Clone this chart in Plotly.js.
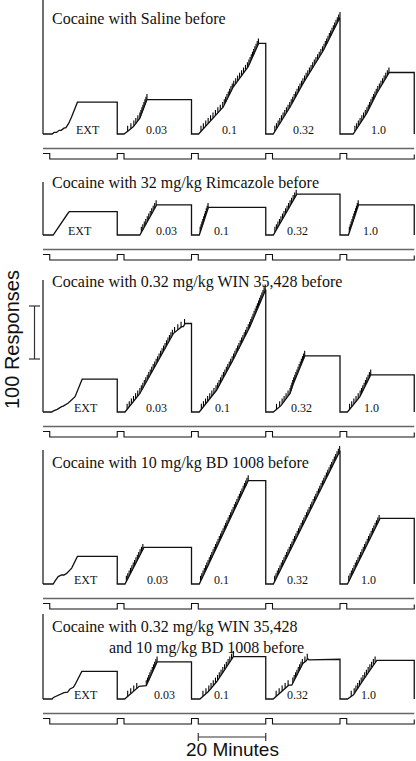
<!DOCTYPE html>
<html><head><meta charset="utf-8">
<script src="https://cdn.plot.ly/plotly-3.0.1.min.js"></script>
<style>html,body{margin:0;padding:0;background:#fff;overflow:hidden}#chart{width:416px;height:761px}</style>
</head><body><div id="chart"></div>
<script>
// ================= DATA =================
const components = ["EXT", "0.03", "0.1", "0.32", "1.0"];
const panelTitles = [
  "Cocaine with Saline before",
  "Cocaine with 32 mg/kg Rimcazole before",
  "Cocaine with 0.32 mg/kg WIN 35,428 before",
  "Cocaine with 10 mg/kg BD 1008 before",
  "Cocaine with 0.32 mg/kg WIN 35,428<br>and 10 mg/kg BD 1008 before"
];
const cycleMinutes = 22;      // 2-min timeout + 20-min component
const timeoutMinutes = 2;
const responsesPerInfusion = 5;
const scaleBarResponses = 100;
const scaleBarMinutes = 20;

// cumulative records: minutes into each cycle / cumulative responses
const salineMin = [
  [0, 2.7, 3.3, 4.0, 4.8, 5.4, 6.2, 6.8, 7.6, 8.4, 10.2, 22],
  [0, 2.0, 3.3, 4.8, 6.7, 8.8, 22],
  [0, 2.1, 5.5, 9.4, 12.4, 16.8, 19.9, 22],
  [0, 2.2, 7.2, 11.1, 17.1, 22],
  [0, 3.9, 7.9, 10.9, 14.6, 22]
];
const salineResp = [
  [0, 0, 3, 3, 7, 7, 11, 12, 20, 31, 60, 60],
  [0, 0, 6, 14, 30, 65, 65],
  [0, 0, 24, 51, 89, 127, 171, 171],
  [0, 0, 51, 96, 158, 220],
  [0, 0, 39, 77, 116, 116]
];
const rimcazoleMin = [
  [0, 3.0, 7.4, 7.8, 22],
  [0, 6.7, 11.7, 22],
  [0, 2.3, 5.0, 22],
  [0, 2.25, 9.2, 22],
  [0, 2.5, 5.5, 22]
];
const rimcazoleResp = [
  [0, 0, 41, 44, 44],
  [0, 0, 57, 57],
  [0, 0, 52, 52],
  [0, 0, 77, 77],
  [0, 0, 57, 57]
];
const winMin = [
  [0, 2.6, 3.1, 3.6, 4.2, 5.5, 6.0, 7.5, 9.5, 11.6, 22],
  [0, 2.3, 6.7, 11.7, 16.6, 19.1, 19.6, 20.1, 22],
  [0, 2.3, 7.4, 12.3, 17.3, 21.9, 22],
  [0, 2.25, 4.5, 7.2, 8.2, 11.6, 22],
  [0, 2.2, 5.9, 9.1, 22]
];
const winResp = [
  [0, 0, 2, 3, 5, 10, 11, 17, 29, 62, 62],
  [0, 0, 35, 92, 148, 161, 161, 167, 167],
  [0, 0, 41, 98, 161, 231, 231],
  [0, 0, 12, 35, 54, 106, 106],
  [0, 0, 29, 70, 70]
];
const bdMin = [
  [0, 3.0, 3.6, 4.5, 5.5, 6.2, 7.0, 8.5, 10.2, 22],
  [0, 2.3, 7.9, 22],
  [0, 2.3, 16.8, 22],
  [0, 2.25, 21.9, 22],
  [0, 2.2, 11.9, 22]
];
const bdResp = [
  [0, 0, 6, 14, 17, 17, 20, 30, 52, 52],
  [0, 0, 69, 69],
  [0, 0, 195, 195],
  [0, 0, 250, 250],
  [0, 0, 124, 124]
];
const winBdMin = [
  [0, 2.7, 3.1, 4.9, 5.3, 6.2, 7.3, 8.0, 9.0, 9.4, 11.5, 22],
  [0, 2.2, 6.5, 8.6, 11.8, 22],
  [0, 2.5, 5.0, 7.5, 12.4, 22],
  [0, 2.2, 6.8, 7.7, 11.0, 12.0, 12.4, 12.8, 22],
  [0, 2.2, 4.0, 6.9, 10.4, 10.9, 22]
];
const winBdResp = [
  [0, 0, 3, 8, 8, 12, 13, 19, 22, 26, 52, 52],
  [0, 0, 24, 25, 70, 70],
  [0, 0, 14, 33, 80, 80],
  [0, 0, 26, 26, 67, 72, 76, 74, 75],
  [0, 0, 8, 36, 70, 73, 73]
];

// ================= LAYOUT CONFIG =================
const W = 416, H = 761;
const originPx = 43, pxPerMin = 3.375, pxPerResp = 0.53, pxPerEvent = 5.5;
const baselinePx = [134, 235, 412, 584, 699];
const frameTopPx = [0, 182, 280, 450, 614];
const titleCenterPx = [18.5, 183, 281.5, 463, 637];
const labelOffsetMin = [
  [13.3, 11.5, 11.4, 11.3, 11.3],
  [11.0, 14.7, 9.0, 9.3, 8.9],
  [12.7, 11.5, 9.3, 10.7, 9.2],
  [12.7, 11.8, 9.0, 9.3, 8.3],
  [12.7, 13.9, 9.0, 9.3, 8.3]
];
const tickUpPx = 5.5, tickRightPx = 0;
const serif = "Liberation Serif, Times New Roman, serif";
const sans = "Liberation Sans, Arial, sans-serif";

const recordsMin = [salineMin, rimcazoleMin, winMin, bdMin, winBdMin];
const recordsResp = [salineResp, rimcazoleResp, winResp, bdResp, winBdResp];
const nCycles = components.length;
const sessionMin = nCycles * cycleMinutes;

const traces = [], shapes = [], annotations = [];
const layout = {
  width: W, height: H, margin: {l: 0, r: 0, t: 0, b: 0},
  paper_bgcolor: "#fff", plot_bgcolor: "rgba(0,0,0,0)",
  showlegend: false, hovermode: false,
  xaxis: {range: [-originPx / pxPerMin, (W - originPx) / pxPerMin], visible: false, fixedrange: true, domain: [0, 1]}
};

function axisName(n) { return n === 1 ? "y" : "y" + n; }
function yPaper(px) { return 1 - px / H; }

for (let p = 0; p < recordsMin.length; p++) {
  const recN = 2 * p + 1, evN = 2 * p + 2;
  const B = baselinePx[p];
  const E = B + 25;
  const recAx = {domain: [0, 1], visible: false, fixedrange: true, anchor: "x",
    range: [-(H - B) / pxPerResp, B / pxPerResp]};
  const evAx = {domain: [0, 1], visible: false, fixedrange: true, anchor: "x", overlaying: "y",
    range: [-(H - E) / pxPerEvent, E / pxPerEvent]};
  if (recN > 1) recAx.overlaying = "y";
  layout["yaxis" + (recN === 1 ? "" : recN)] = recAx;
  layout["yaxis" + evN] = evAx;

  // cumulative record
  const xs = [], ys = [], hx = [], hy = [];
  for (let c = 0; c < nCycles; c++) {
    const t = recordsMin[p][c], r = recordsResp[p][c];
    const off = c * cycleMinutes;
    for (let i = 0; i < t.length; i++) { xs.push(off + t[i]); ys.push(r[i]); }
    if (c > 0) {
      // reinforcement marks every FR responses along the record
      const rmax = Math.max(...r);
      for (let k = 1; k * responsesPerInfusion <= rmax; k++) {
        const lvl = k * responsesPerInfusion;
        for (let i = 1; i < t.length; i++) {
          if (r[i] >= lvl && r[i - 1] < lvl) {
            const f = (lvl - r[i - 1]) / (r[i] - r[i - 1]);
            const tx = off + t[i - 1] + f * (t[i] - t[i - 1]);
            hx.push(tx, tx + tickRightPx / pxPerMin, null);
            hy.push(lvl, lvl + tickUpPx / pxPerResp, null);
            break;
          }
        }
      }
    }
    annotations.push({xref: "x", yref: axisName(recN), x: off + labelOffsetMin[p][c], y: 0,
      text: components[c], showarrow: false, xanchor: "center", yanchor: "middle", yshift: 4,
      font: {family: serif, size: 12, color: "#111"}});
  }
  xs.push(sessionMin); ys.push(0);
  traces.push({x: hx, y: hy, xaxis: "x", yaxis: axisName(recN), mode: "lines",
    line: {color: "#000", width: 1.1}, hoverinfo: "skip", connectgaps: false});
  traces.push({x: xs, y: ys, xaxis: "x", yaxis: axisName(recN), mode: "lines",
    line: {color: "#111", width: 1.3, shape: "linear"}, hoverinfo: "skip"});

  // event pens
  traces.push({x: [0, sessionMin], y: [1.9, 1.9], xaxis: "x", yaxis: axisName(evN), mode: "lines",
    line: {color: "#666", width: 1.5}, hoverinfo: "skip"});
  const ex = [], ey = [];
  for (let c = 0; c < nCycles; c++) {
    const s = c * cycleMinutes;
    if (c > 0) { ex.push(s); ey.push(0); }
    ex.push(s, s + timeoutMinutes, s + timeoutMinutes); ey.push(1, 1, 0);
  }
  ex.push(sessionMin, sessionMin); ey.push(0, 0.8);
  traces.push({x: ex, y: ey, xaxis: "x", yaxis: axisName(evN), mode: "lines",
    line: {color: "#111", width: 1.1}, hoverinfo: "skip"});

  // recorder frame (left edge)
  shapes.push({type: "line", xref: "x", yref: axisName(recN), x0: 0, x1: 0, y0: 0,
    y1: (B - frameTopPx[p]) / pxPerResp, line: {color: "#111", width: 1.2}});

  // title
  const lines = panelTitles[p].split("<br>");
  if (lines.length === 1) {
    annotations.push({xref: "paper", yref: "paper", x: 50 / W, y: yPaper(titleCenterPx[p]),
      text: lines[0], showarrow: false, xanchor: "left", yanchor: "middle",
      font: {family: serif, size: 16, color: "#111"}});
  } else {
    annotations.push({xref: "paper", yref: "paper", x: 50 / W, y: yPaper(titleCenterPx[p] - 10),
      text: lines[0], showarrow: false, xanchor: "left", yanchor: "middle",
      font: {family: serif, size: 16, color: "#111"}});
    annotations.push({xref: "paper", yref: "paper", x: 107 / W, y: yPaper(titleCenterPx[p] + 10.5),
      text: lines[1], showarrow: false, xanchor: "left", yanchor: "middle",
      font: {family: serif, size: 16, color: "#111"}});
  }
}

// response scale bar (on panel 3 record axis)
const barAx = axisName(5);
const barX = 34.5 / W, tickL = 29 / W, tickR = 40 / W;
shapes.push({type: "line", xref: "paper", yref: barAx, x0: barX, x1: barX, y0: scaleBarResponses, y1: 2 * scaleBarResponses, line: {color: "#333", width: 1.2}});
shapes.push({type: "line", xref: "paper", yref: barAx, x0: tickL, x1: tickR, y0: scaleBarResponses, y1: scaleBarResponses, line: {color: "#333", width: 1.2}});
shapes.push({type: "line", xref: "paper", yref: barAx, x0: tickL, x1: tickR, y0: 2 * scaleBarResponses, y1: 2 * scaleBarResponses, line: {color: "#333", width: 1.2}});
annotations.push({xref: "paper", yref: "paper", x: 12 / W, y: yPaper(340), text: scaleBarResponses + " Responses",
  textangle: -90, showarrow: false, xanchor: "center", yanchor: "middle", borderpad: 0,
  font: {family: sans, size: 20, color: "#111"}});

// time scale bar
const tb0 = 2 * cycleMinutes + timeoutMinutes, tb1 = tb0 + scaleBarMinutes;
const tbY = yPaper(737);
shapes.push({type: "line", xref: "x", yref: "paper", x0: tb0, x1: tb1, y0: tbY, y1: tbY, line: {color: "#333", width: 1.2}});
shapes.push({type: "line", xref: "x", yref: "paper", x0: tb0, x1: tb0, y0: yPaper(733), y1: yPaper(741), line: {color: "#333", width: 1.2}});
shapes.push({type: "line", xref: "x", yref: "paper", x0: tb1, x1: tb1, y0: yPaper(733), y1: yPaper(741), line: {color: "#333", width: 1.2}});
annotations.push({xref: "x", yref: "paper", x: (tb0 + tb1) / 2, y: yPaper(749.5), text: scaleBarMinutes + " Minutes",
  showarrow: false, xanchor: "center", yanchor: "middle", borderpad: 0, font: {family: sans, size: 19, color: "#111"}});

layout.shapes = shapes;
layout.annotations = annotations;
Plotly.newPlot("chart", traces, layout, {staticPlot: true, displayModeBar: false});
</script></body></html>
